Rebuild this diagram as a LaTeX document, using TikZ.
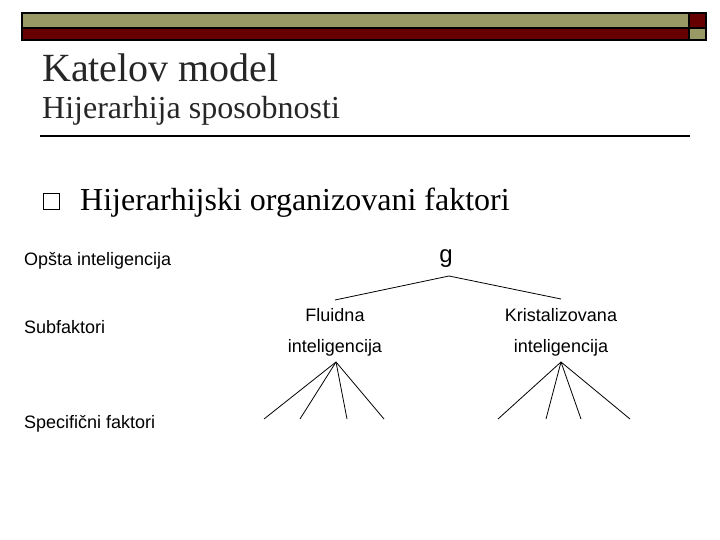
\documentclass[tikz,border=0pt]{standalone}
\usepackage{fontspec}
\setmainfont{Liberation Serif}
\newfontfamily\arial{Liberation Sans}
\definecolor{olive}{RGB}{153,153,102}
\definecolor{dred}{RGB}{102,0,0}
\begin{document}
\begin{tikzpicture}[x=1pt,y=-1pt,
  lab/.style={font=\arial\fontsize{18}{20}\selectfont,inner sep=0pt},
  edge/.style={line width=0.8pt}]
\useasboundingbox (0,0) rectangle (720,540);
\fill[white] (0,0) rectangle (720,540);
\draw[line width=1.5pt,fill=olive] (22,13) rectangle (689,28);
\draw[line width=1.5pt,fill=dred] (22,28) rectangle (689,40);
\draw[line width=1.5pt,fill=dred] (689,13) rectangle (706,28);
\draw[line width=1.5pt,fill=olive] (689,28) rectangle (706,40);
\node[anchor=west,inner sep=0pt,font=\fontsize{40}{44}\selectfont,text=black!85] (t) at (42,68) {Katelov model};
\node[anchor=west,inner sep=0pt,font=\fontsize{32}{36}\selectfont,text=black!85] (st) at (42,111) {Hijerarhija sposobnosti};
\draw[line width=1.5pt] (40,136) -- (690,136);
\draw[line width=1pt] (43,194) rectangle (59,210);
\node[anchor=west,inner sep=0pt,font=\fontsize{32}{36}\selectfont] (b) at (80,203) {Hijerarhijski organizovani faktori};
\node[lab,anchor=west] (l1) at (24,261) {Opšta inteligencija};
\node[lab,anchor=west] (l2) at (24,327) {Subfaktori};
\node[lab,anchor=west] (l3) at (24,424) {Specifični faktori};
\node[font=\arial\fontsize{24}{26}\selectfont,inner sep=0pt] (g) at (446,259) {g};
\coordinate (ga) at (449,276);
\coordinate (fl) at (335,300);
\coordinate (kr) at (561,299);
\draw[edge] (fl) -- (ga) -- (kr);
\node[lab] (f1) at (335,315) {Fluidna};
\node[lab] (f2) at (335,348) {inteligencija};
\node[lab] (k1) at (561,315) {Kristalizovana};
\node[lab] (k2) at (561,348) {inteligencija};
\coordinate (fa) at (336,362);
\coordinate (ka) at (561,362);
\foreach \x [count=\i] in {264,300,347,384} \coordinate (fe\i) at (\x,419);
\foreach \x [count=\i] in {498,546,581,630} \coordinate (ke\i) at (\x,419);
\foreach \i in {1,...,4} {\draw[edge] (fa) -- (fe\i); \draw[edge] (ka) -- (ke\i);}
\end{tikzpicture}
\end{document}
